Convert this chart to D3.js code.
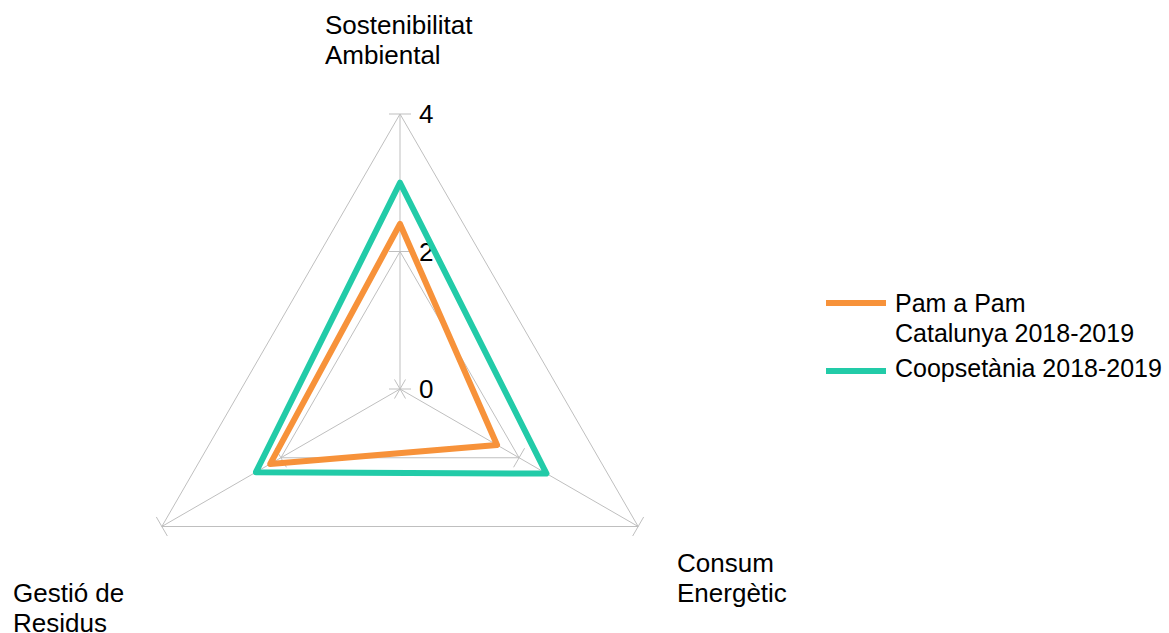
<!DOCTYPE html>
<html>
<head>
<meta charset="utf-8">
<script src="https://cdn.jsdelivr.net/npm/d3@7"></script>
<style>
  html, body { margin: 0; padding: 0; background: #fff; }
  svg { display: block; }
  text { font-family: "Liberation Sans", Arial, sans-serif; fill: #000; }
</style>
</head>
<body>
<script>
const categories = [["Sostenibilitat", "Ambiental"], ["Consum", "Energètic"], ["Gestió de", "Residus"]];
const seriesNames = [["Pam a Pam", "Catalunya 2018-2019"], ["Coopsetània 2018-2019"]];
const pamValues = [2.4, 1.63, 2.18];
const coopValues = [3.0, 2.46, 2.42];
const tickValues = [0, 2, 4];
const colors = ["#F7923A", "#22CBA8"];

const W = 1169, H = 633;
const cx = 400, cy = 389;
const svg = d3.select("body").append("svg").attr("width", W).attr("height", H);

const r = d3.scaleLinear().domain([0, 4]).range([0, 275]);
const angle = d3.scaleLinear().domain([0, categories.length]).range([-Math.PI / 2, 1.5 * Math.PI]);
const pt = (i, v) => [cx + r(v) * Math.cos(angle(i)), cy + r(v) * Math.sin(angle(i))];

const grid = svg.append("g").attr("stroke", "#BFBFBF").attr("stroke-width", 1).attr("fill", "none");
// grid polygons
tickValues.filter(t => t > 0).forEach(t => {
  grid.append("path").attr("d", d3.line()(d3.range(categories.length).map(i => pt(i, t))) + "Z");
});
// axes
categories.forEach((c, i) => {
  const [x, y] = pt(i, 4);
  grid.append("line").attr("x1", cx).attr("y1", cy).attr("x2", x).attr("y2", y);
  // tick marks perpendicular to axis
  tickValues.forEach(t => {
    const [tx, ty] = pt(i, t);
    const a = angle(i) + Math.PI / 2;
    const L = 11;
    grid.append("line")
      .attr("x1", tx - L * Math.cos(a)).attr("y1", ty - L * Math.sin(a))
      .attr("x2", tx + L * Math.cos(a)).attr("y2", ty + L * Math.sin(a));
  });
});

// tick labels on first axis
svg.append("g").selectAll("text").data(tickValues).join("text")
  .attr("x", cx + 19).attr("y", d => cy - r(d) + 9)
  .attr("font-size", 26)
  .text(d => d);

// series
const line = d3.line().curve(d3.curveLinearClosed);
[pamValues, coopValues].forEach((vals, k) => {
  svg.append("path")
    .attr("d", line(vals.map((v, i) => pt(i, v))))
    .attr("fill", "none")
    .attr("stroke", colors[k])
    .attr("stroke-width", 6)
    .attr("stroke-linejoin", "round");
});

// category labels
const labelPos = [[325, 34], [677, 572], [13, 602]];
categories.forEach((c, i) => {
  const t = svg.append("text").attr("font-size", 26)
    .attr("x", labelPos[i][0]).attr("y", labelPos[i][1]);
  c.forEach((s, j) => t.append("tspan").attr("x", labelPos[i][0]).attr("dy", j === 0 ? 0 : 30).text(s));
});

// legend
const legY = [303, 371];
const legTextY = [312, 377];
seriesNames.forEach((n, k) => {
  svg.append("line").attr("x1", 826).attr("x2", 886).attr("y1", legY[k]).attr("y2", legY[k])
    .attr("stroke", colors[k]).attr("stroke-width", 6);
  const t = svg.append("text").attr("font-size", 25).attr("x", 895).attr("y", legTextY[k]);
  n.forEach((s, j) => t.append("tspan").attr("x", 895).attr("dy", j === 0 ? 0 : 30).text(s));
});
</script>
</body>
</html>
